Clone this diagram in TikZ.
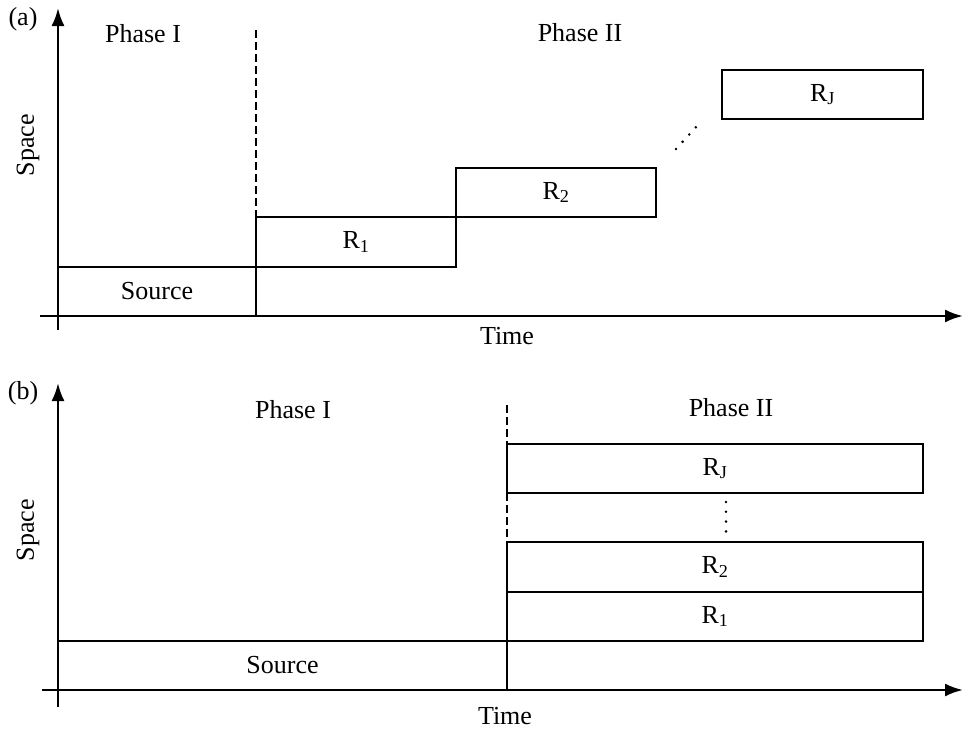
\documentclass[tikz,border=0pt]{standalone}
\usepackage{fontspec}
\setmainfont{Liberation Serif}
\usetikzlibrary{positioning,arrows.meta}
\newcommand{\Rsub}[1]{R\textsubscript{#1}}

\begin{document}
\begin{tikzpicture}[x=1pt,y=-1pt,font=\fontsize{26pt}{28pt}\selectfont,
      ax/.style={-{Latex[length=18pt,width=13pt]},line width=2.4pt},
      blk/.style={draw,line width=2.6pt,anchor=north west,inner sep=0pt,outer sep=0pt},
      split/.style={line width=2.4pt,dash pattern=on 8pt off 4pt},
      dotrow/.style={line width=2.8pt,line cap=round,dash pattern=on 0pt off 9.8pt}]
      \useasboundingbox (0,0) rectangle (964,731);
      % (a)
      \coordinate (ya0) at (58,330); \coordinate (ya1) at (58,8);
      \coordinate (xa0) at (40,316); \coordinate (xa1) at (963,316);
      \draw[ax] (ya0) -- (ya1); \draw[ax] (xa0) -- (xa1);
      \node[blk,minimum width=198pt,minimum height=49pt] (srcA) at (58,267) {Source};
      \node[blk,minimum width=200pt,minimum height=50pt] (r1A) at (256,217) {\Rsub{1}};
      \node[blk,minimum width=200pt,minimum height=49pt] (r2A) at (456,168) {\Rsub{2}};
      \node[blk,minimum width=201pt,minimum height=49pt] (rjA) at (722,70) {\Rsub{J}};
      \coordinate (splitA) at (256,30);
      \draw[split] (splitA) -- (r1A.north west);
      \coordinate (dA0) at (676,149); \coordinate (dA1) at (697,126);
      \draw[dotrow] (dA0) -- (dA1);
      \node (labA) at (23,19) {(a)};
      \node (ph1A) at (143,34) {Phase I};
      \node (ph2A) at (580,33) {Phase II};
      \node[rotate=90] (spA) at (28,145) {Space};
      \node (tmA) at (507,336) {Time};
      % (b)
      \coordinate (yb0) at (58,707); \coordinate (yb1) at (58,383);
      \coordinate (xb0) at (42,690); \coordinate (xb1) at (963,690);
      \draw[ax] (yb0) -- (yb1); \draw[ax] (xb0) -- (xb1);
      \node[blk,minimum width=449pt,minimum height=49pt] (srcB) at (58,641) {Source};
      \node[blk,minimum width=416pt,minimum height=49pt] (r1B) at (507,592) {\Rsub{1}};
      \node[blk,minimum width=416pt,minimum height=50pt] (r2B) at (507,542) {\Rsub{2}};
      \node[blk,minimum width=416pt,minimum height=49pt] (rjB) at (507,444) {\Rsub{J}};
      \coordinate (splitB) at (507,405);
      \draw[split] (splitB) -- (rjB.north west);
      \draw[split] (rjB.south west) -- (r2B.north west);
      \coordinate (dB0) at (726,502); \coordinate (dB1) at (726,532);
      \draw[dotrow] (dB0) -- (dB1);
      \node (labB) at (23,393) {(b)};
      \node (ph1B) at (293,410) {Phase I};
      \node (ph2B) at (731,408) {Phase II};
      \node[rotate=90] (spB) at (28,530) {Space};
      \node (tmB) at (505,716) {Time};
    \end{tikzpicture}
\end{document}
